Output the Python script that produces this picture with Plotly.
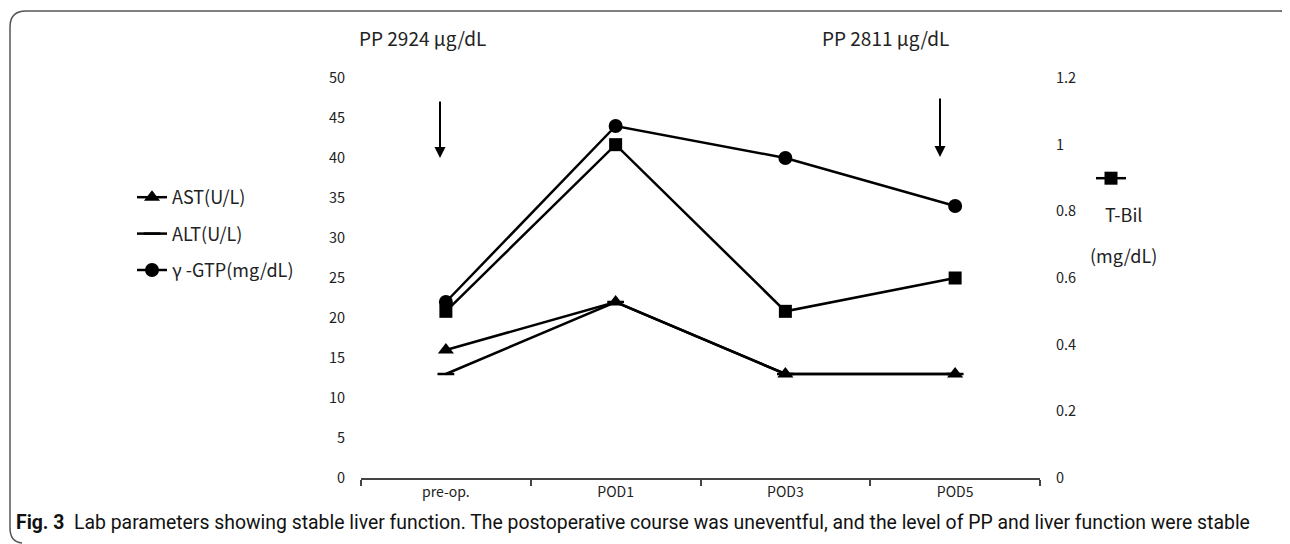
import plotly.graph_objects as go

categories = ["pre-op.", "POD1", "POD3", "POD5"]
ast = [16, 22, 13, 13]
alt = [13, 22, 13, 13]
gtp = [22, 44, 40, 34]
tbil = [0.5, 1.0, 0.5, 0.6]
left_ticks = list(range(0, 55, 5))
right_ticks = [0, 0.2, 0.4, 0.6, 0.8, 1.0, 1.2]

# page body has an 8px margin; work in reference pixel coords and offset
OFF = 8
W, H = 1290 - OFF, 544 - OFF
L, R, T = 361 - OFF, 1290 - 1040, 78 - OFF
B = H - (478 - OFF)
PW, PH = W - L - R, H - T - B


def px(x):
    return (x - OFF - L) / PW


def py(y):
    return (H - B - (y - OFF)) / PH


FONT = "Noto Sans CJK JP, Noto Sans, sans-serif"
LW = 2.5

fig = go.Figure()
fig.add_trace(go.Scatter(x=categories, y=gtp, name="\u03b3 -GTP(mg/dL)", mode="lines+markers",
                         line=dict(color="black", width=LW),
                         marker=dict(symbol="circle", size=14, color="black"),
                         legend="legend", legendrank=3, legendgroup="c"))
fig.add_trace(go.Scatter(x=categories, y=tbil, name=" ", mode="lines+markers", yaxis="y2",
                         line=dict(color="black", width=LW),
                         marker=dict(symbol="square", size=13, color="black"),
                         legend="legend2"))
fig.add_trace(go.Scatter(x=categories, y=alt, name="ALT(U/L)", mode="lines+markers",
                         line=dict(color="black", width=LW),
                         marker=dict(symbol="line-ew", size=12, color="black",
                                     line=dict(color="black", width=2.5)),
                         legend="legend", legendrank=2, legendgroup="b"))
fig.add_trace(go.Scatter(x=categories, y=ast, name="AST(U/L)", mode="lines+markers",
                         line=dict(color="black", width=LW),
                         marker=dict(symbol="triangle-up", size=14, color="black"),
                         legend="legend", legendrank=1, legendgroup="a"))

axis_font = dict(family=FONT, size=14.5, color="#222")
fig.update_layout(
    width=W, height=H,
    margin=dict(l=L, r=R, t=T, b=B),
    paper_bgcolor="white", plot_bgcolor="white",
    font=dict(family=FONT, color="black"),
    xaxis=dict(type="category", range=[-0.5, 3.5], showline=True, linecolor="#444", linewidth=1.5,
               ticks="outside", tickson="boundaries", ticklen=6, tickcolor="#444", tickwidth=1.5,
               showgrid=False, zeroline=False, tickfont=dict(family=FONT, size=14, color="#222")),
    yaxis=dict(range=[0, 50], tickvals=left_ticks, showline=False, showgrid=False, zeroline=False,
               ticks="outside", ticklen=12, tickcolor="rgba(0,0,0,0)", tickfont=axis_font),
    yaxis2=dict(range=[0, 1.2], tickvals=right_ticks, ticktext=["0", "0.2", "0.4", "0.6", "0.8", "1", "1.2"],
                overlaying="y", side="right", showline=False, showgrid=False, zeroline=False,
                ticks="outside", ticklen=12, tickcolor="rgba(0,0,0,0)", tickfont=axis_font),
    legend=dict(x=px(132), y=py(179), xanchor="left", yanchor="top", bgcolor="rgba(0,0,0,0)",
                font=dict(family=FONT, size=18, color="#222"), tracegroupgap=10,
                traceorder="grouped", itemclick=False),
    legend2=dict(x=px(1091), y=py(160), xanchor="left", yanchor="top", bgcolor="rgba(0,0,0,0)",
                 font=dict(family=FONT, size=18, color="#222")),
    showlegend=True,
)

ann_font = dict(family=FONT, size=19, color="#222")
for xp, yp, txt, f in [(422, 38, "PP 2924 \u03bcg/dL", ann_font),
                       (885, 38, "PP 2811 \u03bcg/dL", ann_font),
                       (1123, 214, "T-Bil", dict(family=FONT, size=18, color="#222")),
                       (1123, 255, "(mg/dL)", dict(family=FONT, size=18, color="#222"))]:
    fig.add_annotation(x=px(xp), y=py(yp), xref="paper", yref="paper", text=txt,
                       xanchor="center", yanchor="middle", showarrow=False, font=f)

# arrows
for ax_px, top, bot in [(440, 100, 158), (940, 97, 157)]:
    fig.add_annotation(x=px(ax_px), y=py(bot), xref="paper", yref="paper", ax=0, ay=-(bot - top),
                       text="", showarrow=True, arrowhead=2,
                       arrowsize=1.1, arrowwidth=2, arrowcolor="black")

# caption
fig.add_annotation(x=px(14), y=py(522), xref="paper", yref="paper", xanchor="left", yanchor="middle",
                   text="<b>Fig. 3</b>  Lab parameters showing stable liver function. The postoperative course was uneventful, and the level of PP and liver function were stable",
                   showarrow=False, font=dict(family="Liberation Sans Narrow, Roboto, sans-serif", size=19.4, color="#111"))

# frame
path = (f"M {px(1288)},{py(16)} Q {px(1287)},{py(11)} {px(1280)},{py(11)} "
        f"L {px(26)},{py(11)} Q {px(10)},{py(11)} {px(10)},{py(27)} "
        f"L {px(10)},{py(528)} Q {px(10)},{py(542)} {px(22)},{py(543)}")
fig.add_shape(type="path", path=path, xref="paper", yref="paper", line=dict(color="#555", width=1.5))

fig.write_html("out.html")
